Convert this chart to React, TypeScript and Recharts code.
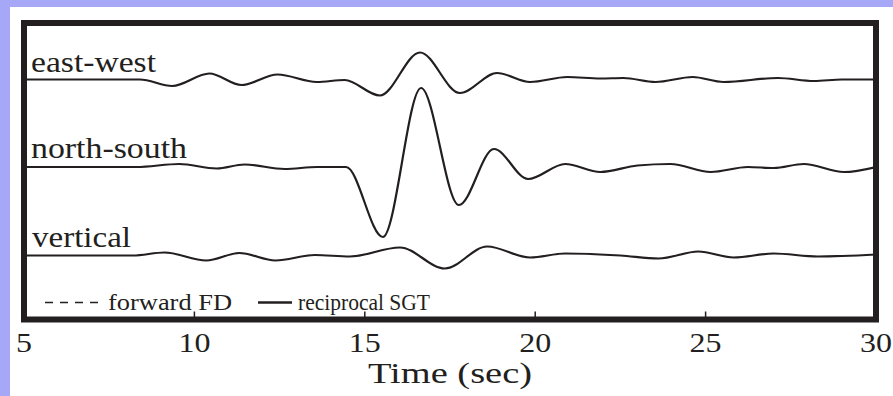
import React from "react";
import { LineChart, Line, XAxis, YAxis, ReferenceArea } from "recharts";

// sample times (sec) and trace amplitudes (px above each trace's baseline)
const ewTimes = [5, 8.4, 9.35, 10.44, 11.38, 12.44, 13.59, 14.41, 15.44, 16.62, 17.79, 18.88, 19.85, 20.94, 21.91, 22.59, 23.53, 24.62, 25.53, 27.12, 28.18, 29, 30];
const eastWest = [0, 0, -6.5, 6, -5.5, 5, -2.5, -0.5, -16, 27, -13.5, 6.5, -2.5, 2.5, 1, 1.5, -2.5, 2.5, -2.5, 1.5, -1.5, 0, 0];

const nsTimes = [5, 8.3, 9.56, 10.65, 11.47, 12.65, 13.6, 14.45, 15.53, 16.65, 17.76, 18.79, 19.79, 20.88, 21.91, 23.0, 23.97, 25.15, 26.24, 27.0, 27.88, 29.06, 30];
const northSouth = [0, 0, 3, -1.5, 2.5, -2, 0, 0, -70, 79, -38, 18, -12, 3, -5, 1.5, 3, -5, 0, -1, 3, -5, 0];

const vtTimes = [5, 8.2, 9.12, 10.35, 11.32, 12.38, 13.53, 14.56, 16.03, 17.35, 18.59, 19.85, 20.88, 22.5, 23.62, 24.79, 25.82, 27.0, 28.29, 30];
const vertical = [0, 0, 3, -5, 2.5, -5, 0.5, -1, 8, -13, 9, -2, 2, 0, -3, 4, -2, 2, -1, 1];

const xTicks = [5, 10, 15, 20, 25, 30];
const traceNames = ["east-west", "north-south", "vertical"];
const legendNames = ["forward FD", "reciprocal SGT"];

const INK = "#231f20";
const SERIF = "Liberation Serif";
const PLOT_H = 296.5;

const toRows = (times: number[], vals: number[], base: number) =>
  times.map((t, i) => ({ t, v: base + vals[i] }));

const ewData = toRows(ewTimes, eastWest, 240);
const nsData = toRows(nsTimes, northSouth, 152.5);
const vtData = toRows(vtTimes, vertical, 64);

const TimeTick = (props: any) => {
  const { x, y, payload } = props;
  const label = String(payload.value);
  return (
    <g>
      <line x1={x} y1={y} x2={x} y2={y - 8} stroke={INK} strokeWidth={1.5} />
      <text
        x={x}
        y={y + 32.5}
        textAnchor="middle"
        fontFamily={SERIF}
        fontSize={28}
        fill={INK}
        textLength={label.length * 16}
        lengthAdjust="spacingAndGlyphs"
      >
        {label}
      </text>
    </g>
  );
};

export default function App() {
  return (
    <div style={{ position: "absolute", left: 0, top: 0, width: 893, height: 396, background: "#a7a7f8", overflow: "hidden" }}>
      <div style={{ position: "absolute", left: 10, top: 7, right: 0, bottom: 0, background: "#ffffff" }} />
      <div style={{ position: "absolute", left: 0, top: 0 }}>
        <LineChart width={893} height={396} margin={{ top: 23, left: 24, right: 17, bottom: 46.5 }}>
          <XAxis
            type="number"
            dataKey="t"
            domain={[5, 30]}
            ticks={xTicks}
            allowDataOverflow
            axisLine={false}
            tickLine={false}
            tickSize={0}
            tickMargin={0}
            height={30}
            tick={<TimeTick />}
          />
          <YAxis type="number" domain={[0, PLOT_H]} hide allowDataOverflow />
          <Line data={ewData} dataKey="v" type="monotone" stroke={INK} strokeWidth={2.2} dot={false} activeDot={false} isAnimationActive={false} />
          <Line data={nsData} dataKey="v" type="monotone" stroke={INK} strokeWidth={2.2} dot={false} activeDot={false} isAnimationActive={false} />
          <Line data={vtData} dataKey="v" type="monotone" stroke={INK} strokeWidth={2.2} dot={false} activeDot={false} isAnimationActive={false} />
          <ReferenceArea x1={5} x2={30} y1={0} y2={PLOT_H} fill="none" fillOpacity={0} stroke={INK} strokeWidth={6} ifOverflow="visible" />
        </LineChart>
      </div>
      <svg width={893} height={396} style={{ position: "absolute", left: 0, top: 0, pointerEvents: "none" }}>
        <g fontFamily={SERIF} fill={INK}>
          <text x={31} y={72} fontSize={30} textLength={125} lengthAdjust="spacingAndGlyphs">{traceNames[0]}</text>
          <text x={31} y={158} fontSize={30} textLength={156} lengthAdjust="spacingAndGlyphs">{traceNames[1]}</text>
          <text x={32} y={247} fontSize={30} textLength={99} lengthAdjust="spacingAndGlyphs">{traceNames[2]}</text>
          <line x1={45} y1={302.5} x2={101} y2={302.5} stroke={INK} strokeWidth={1.5} strokeDasharray="8 7" />
          <text x={108} y={310} fontSize={24} textLength={124} lengthAdjust="spacingAndGlyphs">{legendNames[0]}</text>
          <line x1={258} y1={302.5} x2={292} y2={302.5} stroke={INK} strokeWidth={2.5} />
          <text x={298} y={310} fontSize={24} textLength={132} lengthAdjust="spacingAndGlyphs">{legendNames[1]}</text>
          <text x={368} y={383} fontSize={30} textLength={164} lengthAdjust="spacingAndGlyphs">Time (sec)</text>
        </g>
      </svg>
    </div>
  );
}
